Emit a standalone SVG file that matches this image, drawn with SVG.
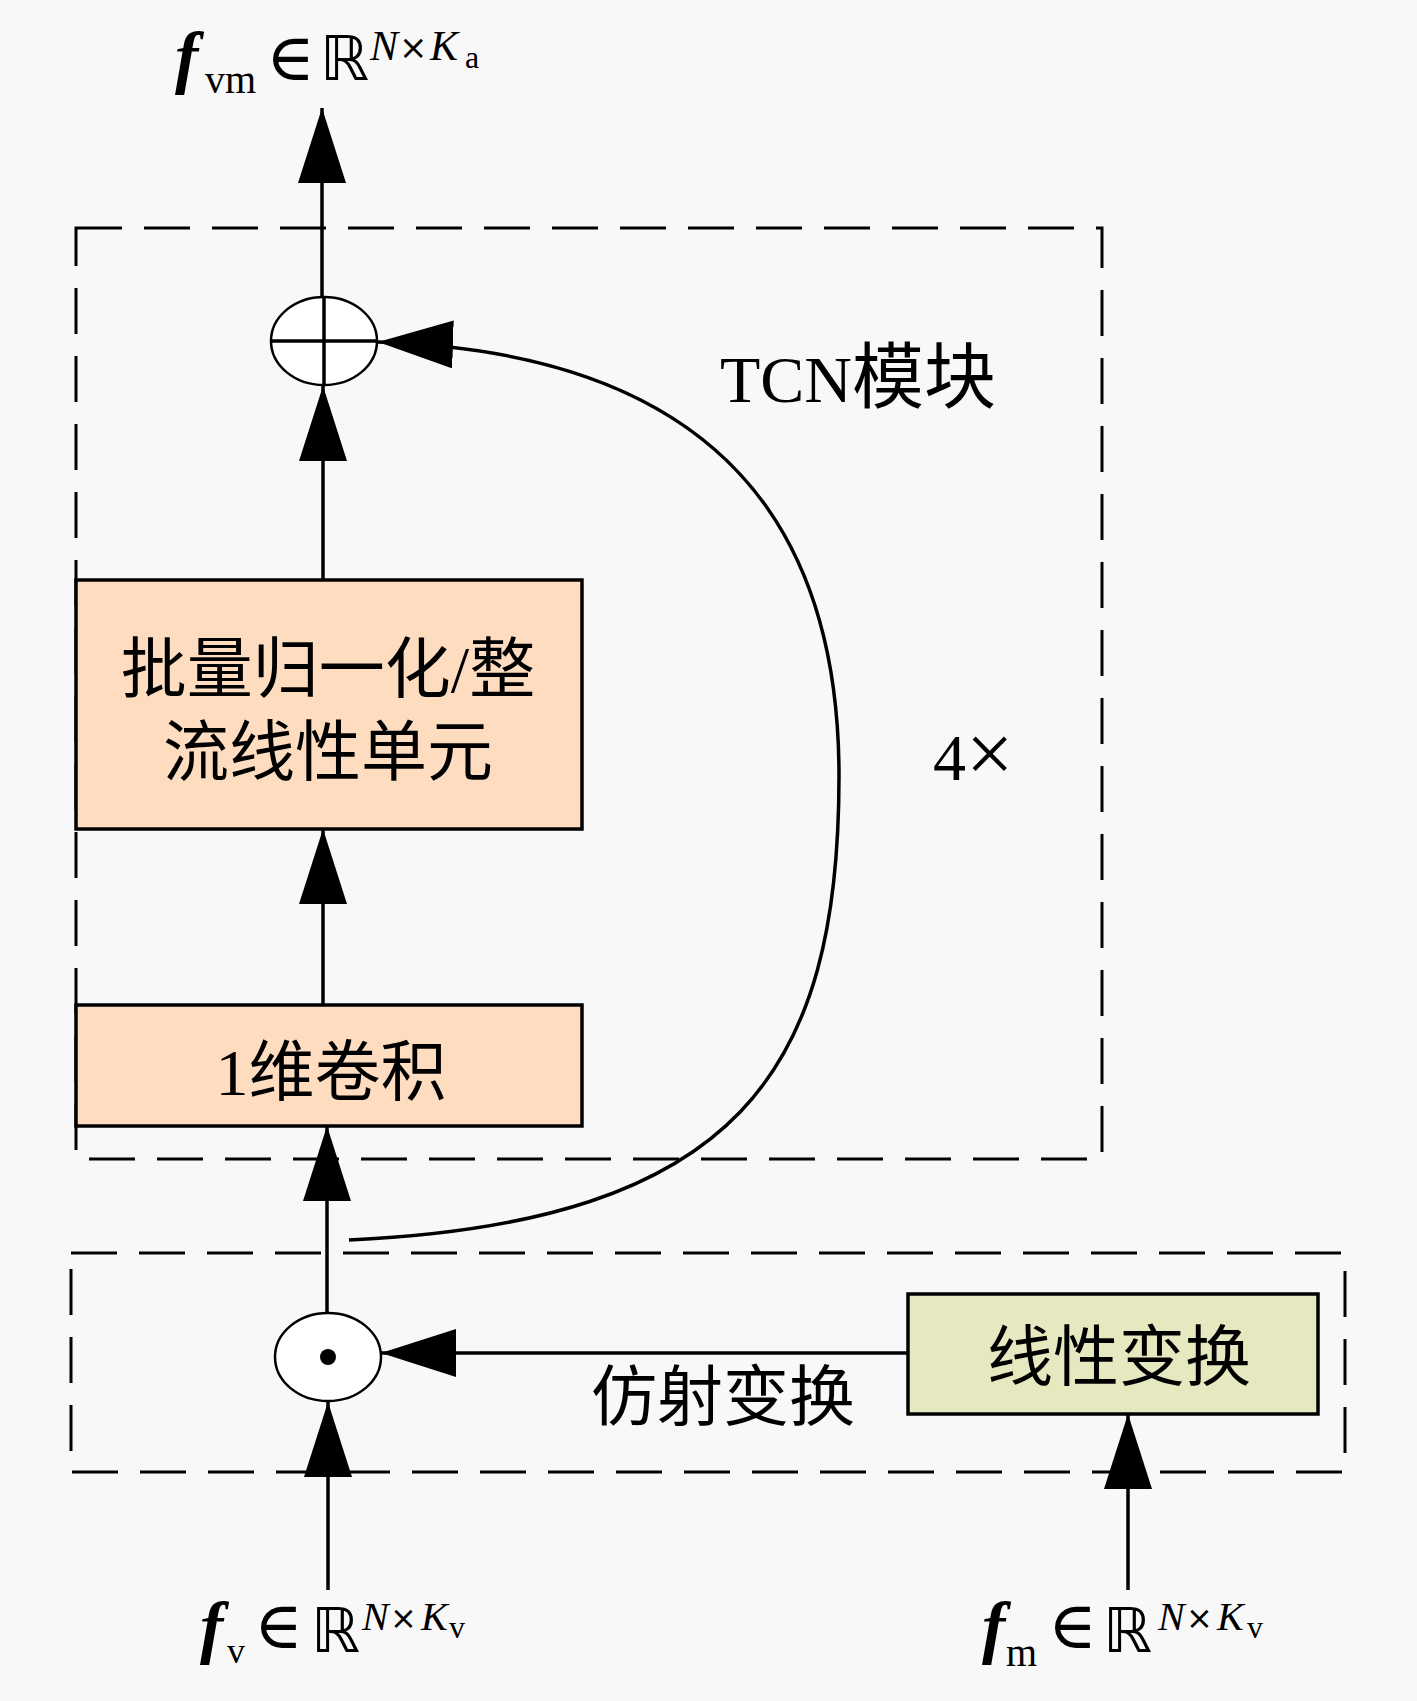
<svg xmlns="http://www.w3.org/2000/svg" width="1417" height="1701" viewBox="0 0 1417 1701">
<style>
.dash{fill:none;stroke:#000;stroke-width:3;stroke-dasharray:46 22}
.box{stroke:#000;stroke-width:3.5}
.peach{fill:#FDDCC0}
.olive{fill:#E6E9C0}
.ln{fill:none;stroke:#000;stroke-width:3.5}
.op{fill:#fff;stroke:#000;stroke-width:2.5}
.cjk{font-family:"Liberation Serif","Noto Sans CJK SC",serif;font-size:66px;fill:#000}
.m{font-family:"Liberation Serif",serif;fill:#000}
.sym{font-family:"DejaVu Serif",serif;fill:#000}
.bb{font-family:"DejaVu Sans",sans-serif;fill:#000}
</style>
<defs>
<marker id="ah" viewBox="0 0 75 48" refX="75" refY="24" markerWidth="75" markerHeight="48" markerUnits="userSpaceOnUse" orient="auto">
<path d="M0,0 L75,24 L0,48 z" fill="#000"/>
</marker>
</defs>
<rect width="1417" height="1701" fill="#F8F8F8"/>

<g id="tcn-block">
<rect class="dash" x="76" y="228" width="1026" height="931"/>
<text class="cjk" x="720" y="402" font-size="70">TCN<tspan font-size="72">模块</tspan></text>
<text class="cjk" x="933" y="780" font-size="68">4<tspan font-size="84" dy="2">×</tspan></text>
</g>

<g id="affine-block">
<rect class="dash" x="71" y="1253" width="1274" height="219"/>
<text class="cjk" x="723" y="1420" text-anchor="middle">仿射变换</text>
</g>

<g id="connectors">
<line class="ln" x1="322" y1="297" x2="322" y2="108" marker-end="url(#ah)"/>
<line class="ln" x1="323" y1="580" x2="323" y2="386" marker-end="url(#ah)"/>
<line class="ln" x1="323" y1="1005" x2="323" y2="829" marker-end="url(#ah)"/>
<line class="ln" x1="327" y1="1313" x2="327" y2="1126" marker-end="url(#ah)"/>
<line class="ln" x1="328" y1="1590" x2="328" y2="1402" marker-end="url(#ah)"/>
<line class="ln" x1="1128" y1="1590" x2="1128" y2="1414" marker-end="url(#ah)"/>
<line class="ln" x1="908" y1="1353" x2="381" y2="1353" marker-end="url(#ah)"/>
<path class="ln" d="M349,1240 C740,1222 839,1070 839,776 C839,500 690,352 378,342" marker-end="url(#ah)"/>
</g>

<g id="plus">
<ellipse class="op" cx="324" cy="341" rx="53" ry="44"/>
<line class="ln" x1="271" y1="341" x2="377" y2="341" stroke-width="2.5"/>
<line class="ln" x1="324" y1="297" x2="324" y2="385" stroke-width="2.5"/>
</g>

<g id="odot">
<ellipse class="op" cx="328" cy="1357" rx="53" ry="44"/>
<circle cx="328" cy="1357" r="8" fill="#000"/>
</g>

<g id="bn-relu">
<rect class="box peach" x="76" y="580" width="506" height="249"/>
<text class="cjk" x="328" y="692" text-anchor="middle">批量归一化/整</text>
<text class="cjk" x="328" y="775" text-anchor="middle">流线性单元</text>
</g>

<g id="conv1d">
<rect class="box peach" x="76" y="1005" width="506" height="121"/>
<text class="cjk" x="331" y="1095" text-anchor="middle">1维卷积</text>
</g>

<g id="linear">
<rect class="box olive" x="908" y="1294" width="410" height="120"/>
<text class="cjk" x="1119" y="1380" text-anchor="middle">线性变换</text>
</g>

<g id="label-fvm">
<text class="m" x="175" y="80" font-size="70" font-style="italic" font-weight="bold">f</text>
<text class="m" x="205" y="93" font-size="40">vm</text>
<text class="sym" x="266" y="80" font-size="66">∈</text>
<text class="bb" x="320" y="80" font-size="62">ℝ</text>
<text class="m" x="370" y="60" font-size="42" font-style="italic">N</text>
<text class="bb" x="399" y="59" font-size="34">×</text>
<text class="m" x="430" y="60" font-size="42" font-style="italic">K</text>
<text class="m" x="465" y="68" font-size="32">a</text>
</g>

<g id="label-fv">
<text class="m" x="200" y="1650" font-size="70" font-style="italic" font-weight="bold">f</text>
<text class="m" x="227" y="1663" font-size="36">v</text>
<text class="sym" x="254" y="1648" font-size="66">∈</text>
<text class="bb" x="311" y="1652" font-size="62">ℝ</text>
<text class="m" x="362" y="1630" font-size="40" font-style="italic">N</text>
<text class="bb" x="390" y="1629" font-size="32">×</text>
<text class="m" x="421" y="1630" font-size="40" font-style="italic">K</text>
<text class="m" x="449" y="1638" font-size="32">v</text>
</g>

<g id="label-fm">
<text class="m" x="982" y="1650" font-size="70" font-style="italic" font-weight="bold">f</text>
<text class="m" x="1006" y="1666" font-size="40">m</text>
<text class="sym" x="1048" y="1648" font-size="66">∈</text>
<text class="bb" x="1103" y="1652" font-size="62">ℝ</text>
<text class="m" x="1158" y="1630" font-size="40" font-style="italic">N</text>
<text class="bb" x="1186" y="1629" font-size="32">×</text>
<text class="m" x="1217" y="1630" font-size="40" font-style="italic">K</text>
<text class="m" x="1247" y="1638" font-size="32">v</text>
</g>
</svg>
